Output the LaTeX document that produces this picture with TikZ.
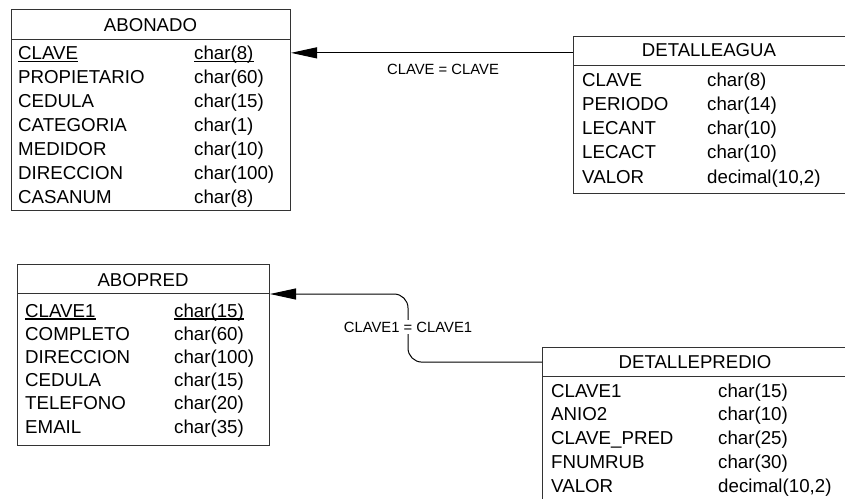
\documentclass[tikz,border=0pt]{standalone}
\usepackage{fontspec}
\setmainfont{Liberation Sans}
\usepackage{tikz}
\usetikzlibrary{positioning,calc,arrows.meta}

\tikzset{
  tbl/.style={draw=black!80,line width=1pt,fill=white,inner sep=0pt,anchor=north west},
  sep/.style={draw=black!80,line width=1pt},
  ttl/.style={font=\fontsize{18.6}{20}\selectfont,inner sep=0pt,anchor=base},
  fld/.style={font=\fontsize{18.7}{20}\selectfont,inner sep=0pt,anchor=base west},
  pk/.style={line width=1.4pt},
  rel/.style={line width=1pt,rounded corners=14pt,-{Triangle[length=26pt,width=11pt]}},
  lbl/.style={font=\fontsize{14.8}{16}\selectfont,fill=white,inner sep=1.5pt}
}

\begin{document}
\begin{tikzpicture}[x=1pt,y=-1pt]
  \useasboundingbox (0,0) rectangle (845,498);
  \clip (0,0) rectangle (845,498);

  % ABONADO
  \node[tbl,minimum width=279pt,minimum height=201pt] (abonado) at (11,9) {};
  \draw[sep] ($(abonado.north west)+(0,30)$) -- ($(abonado.north east)+(0,30)$);
  \node[ttl] (abonado-h) at (150.5,31.7) {ABONADO};
  \foreach \f/\t [count=\i] in {CLAVE/char(8),PROPIETARIO/char(60),CEDULA/char(15),
      CATEGORIA/char(1),MEDIDOR/char(10),DIRECCION/char(100),CASANUM/char(8)}{%
    \node[fld] (abonado-f\i) at (18,35.3+24*\i) {\f};
    \node[fld] (abonado-c\i) at (194,35.3+24*\i) {\t};
  }
  \draw[pk] ([yshift=-2pt]abonado-f1.base west) -- ([yshift=-2pt]abonado-f1.base east);
  \draw[pk] ([yshift=-2pt]abonado-c1.base west) -- ([yshift=-2pt]abonado-c1.base east);

  % DETALLEAGUA
  \node[tbl,minimum width=285pt,minimum height=157pt] (detalleagua) at (573,36) {};
  \draw[sep] ($(detalleagua.north west)+(0,29)$) -- ($(detalleagua.north east)+(0,29)$);
  \node[ttl] (detalleagua-h) at (709,56.7) {DETALLEAGUA};
  \foreach \f/\t [count=\i] in {CLAVE/char(8),PERIODO/char(14),LECANT/char(10),
      LECACT/char(10),VALOR/{decimal(10,2)}}{%
    \node[fld] (detalleagua-f\i) at (582,61.7+24.3*\i) {\f};
    \node[fld] (detalleagua-c\i) at (707,61.7+24.3*\i) {\t};
  }

  % ABOPRED
  \node[tbl,minimum width=252pt,minimum height=181pt] (abopred) at (17,264) {};
  \draw[sep] ($(abopred.north west)+(0,29)$) -- ($(abopred.north east)+(0,29)$);
  \node[ttl] (abopred-h) at (143,286) {ABOPRED};
  \foreach \f/\t [count=\i] in {CLAVE1/char(15),COMPLETO/char(60),DIRECCION/char(100),
      CEDULA/char(15),TELEFONO/char(20),EMAIL/char(35)}{%
    \node[fld] (abopred-f\i) at (25,293.8+23.2*\i) {\f};
    \node[fld] (abopred-c\i) at (174,293.8+23.2*\i) {\t};
  }
  \draw[pk] ([yshift=-2pt]abopred-f1.base west) -- ([yshift=-2pt]abopred-f1.base east);
  \draw[pk] ([yshift=-2pt]abopred-c1.base west) -- ([yshift=-2pt]abopred-c1.base east);

  % DETALLEPREDIO
  \node[tbl,minimum width=316pt,minimum height=180pt] (detallepredio) at (542,347) {};
  \draw[sep] ($(detallepredio.north west)+(0,29)$) -- ($(detallepredio.north east)+(0,29)$);
  \node[ttl] (detallepredio-h) at (695,368.5) {DETALLEPREDIO};
  \foreach \f/\t [count=\i] in {CLAVE1/char(15),ANIO2/char(10),CLAVE\_PRED/char(25),
      FNUMRUB/char(30),VALOR/{decimal(10,2)}}{%
    \node[fld] (detallepredio-f\i) at (551,373.2+23.8*\i) {\f};
    \node[fld] (detallepredio-c\i) at (718,373.2+23.8*\i) {\t};
  }

  % relaciones
  \draw[rel] (detalleagua.west |- abonado-f1) -- (abonado.east |- abonado-f1);
  \node[lbl] (rel-agua) at (443,69) {CLAVE = CLAVE};

  \coordinate (bend-pred) at (408,327);
  \coordinate (to-pred) at ($(abopred.north east)+(0,30)$);
  \draw[rel] (detallepredio.west |- detallepredio-h) -| (bend-pred) |- (to-pred);
  \node[lbl] (rel-pred) at (bend-pred) {CLAVE1 = CLAVE1};
\end{tikzpicture}
\end{document}
